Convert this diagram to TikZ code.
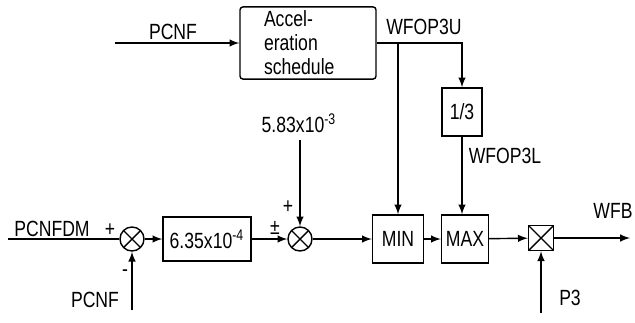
\documentclass[tikz,border=0pt]{standalone}
\usepackage{fontspec}
\setmainfont{Liberation Sans}[FakeStretch=0.8]
\usepackage{tikz}
\usetikzlibrary{positioning,arrows}

\begin{document}
\begin{tikzpicture}[
  x=0.5pt, y=-0.5pt, line width=0.7pt,
  font=\fontsize{11}{12}\selectfont,
  blk/.style={draw,minimum height=24pt,inner sep=2pt},
  xpic/.style={path picture={\draw (path picture bounding box.north west) -- (path picture bounding box.south east)
      (path picture bounding box.north east) -- (path picture bounding box.south west);}},
  sum/.style={draw,circle,minimum size=12pt,inner sep=0pt,xpic},
  mul/.style={draw,minimum size=12.5pt,inner sep=0pt,xpic}
]
\useasboundingbox (0,0) rectangle (635,322);
\node[blk,rounded corners=1.5pt,minimum width=68pt,minimum height=36pt,text width=44pt,align=left] (acc) at (308,43) {Accel-\\eration\\schedule};
\node[blk,minimum width=20pt] (third) at (462,112) {1/3};
\node[sum] (c1) at (132,239) {};
\node[blk,minimum width=44pt,minimum height=22pt] (gain) at (207,239) {6.35x10\textsuperscript{-4}};
\node[sum] (c2) at (300,239) {};
\node[blk,minimum width=25.5pt] (min) at (398,239) {MIN};
\node[blk,minimum width=23.5pt] (max) at (465,239) {MAX};
\node[mul] (m) at (541,238) {};
\coordinate (pin) at (115,43);
\coordinate (pdm) at (8,239);
\coordinate (pb) at (132,310);
\coordinate (k) at (300,140);
\coordinate (pp) at (541,313);
\coordinate (out) at (630,238);
\coordinate (br) at (acc.east -| min.north);
\path (pin) edge[-latex] (acc);
\draw[-latex] (acc.east) -| (third.north);
\path (br) edge[-latex] (min.north);
\path (third.south) edge[-latex] (third.south |- max.north);
\path (pdm) edge (c1);
\path (pb) edge[-latex] (c1);
\path (c1) edge[-latex] (gain);
\path (gain) edge[-latex] (c2);
\path (k) edge[-latex] (c2);
\path (c2) edge[-latex] (min);
\path (min) edge[-latex] (max);
\path (max) edge[-latex] (m);
\path (pp) edge[-latex] (m);
\path (m) edge[-latex] (out);
\node at (173,32) {PCNF};
\node at (424,27) {WFOP3U};
\node at (505,156) {WFOP3L};
\node at (52,229) {PCNFDM};
\node at (110,230) {+};
\node at (125,273) {-};
\node at (95,300) {PCNF};
\node at (299,123) {5.83x10\textsuperscript{-3}};
\node at (288,207) {+};
\node at (275,228) {±};
\node at (613,211) {WFB};
\node at (570,298) {P3};
\end{tikzpicture}
\end{document}
